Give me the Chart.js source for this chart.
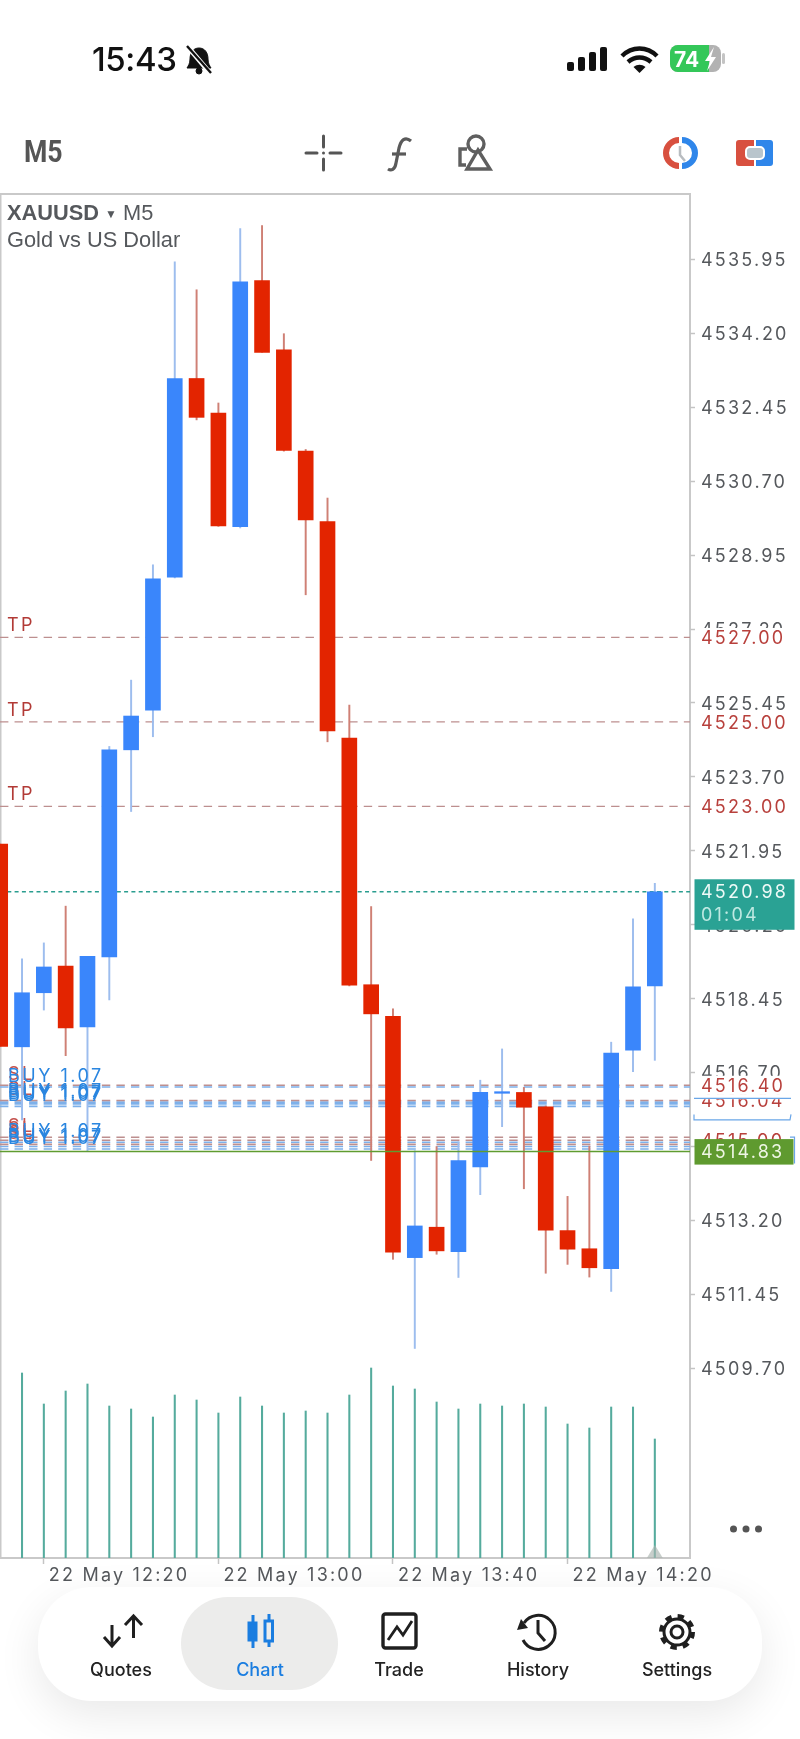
<!DOCTYPE html>
<html><head><meta charset="utf-8">
<style>
html,body{margin:0;padding:0;background:#fff;width:800px;height:1739px;overflow:hidden;font-family:Inter,"Liberation Sans",sans-serif}
#c{position:absolute;left:0;top:0;width:800px;height:1739px}
.t{position:absolute;white-space:nowrap}
svg.o{position:absolute;left:0;top:0;pointer-events:none}
#nav{position:absolute;left:38px;top:1587px;width:724px;height:114px;background:#fff;border-radius:54px;box-shadow:0 14px 44px rgba(0,0,0,.09)}
#hl{position:absolute;left:181px;top:1597px;width:157px;height:93px;background:#ececeb;border-radius:48px}
.n{position:absolute;top:1659px;font-size:18px;font-weight:500;color:#222;transform:translateX(-50%);white-space:nowrap}
</style>
<script src="https://cdn.jsdelivr.net/npm/chart.js@4"></script>
</head><body>
<canvas id="c" width="800" height="1739"></canvas>
<div id="nav"></div><div id="hl"></div>
<div class="t" style="left:92px;top:39px;font-size:33px;font-weight:500;color:#111;letter-spacing:-.4px">15:43</div>
<div class="t" style="left:24px;top:133px;font-family:Roboto;font-size:31px;font-weight:700;color:#555;transform:scaleX(.86);transform-origin:left">M5</div>
<div class="t" style="left:7px;top:200px;font-family:'Liberation Sans';font-size:21.8px;color:#55585c"><b style="font-weight:600">XAUUSD</b> <span style="font-size:12px;vertical-align:2px">▼</span> M5</div>
<div class="t" style="left:7px;top:227px;font-family:'Liberation Sans';font-size:21.8px;color:#55585c">Gold vs US Dollar</div>
<div class="n" style="left:121px">Quotes</div>
<div class="n" style="left:260px;color:#1a7de0">Chart</div>
<div class="n" style="left:399px">Trade</div>
<div class="n" style="left:538px">History</div>
<div class="n" style="left:677px">Settings</div>
<svg class="o" width="800" height="1739" viewBox="0 0 800 1739" fill="none">
 <!-- bell -->
 <g stroke="#111" fill="#111"><path d="M199 48c-6 0-9 5-9 11 0 5-2 7-3 9h24c-1-2-3-4-3-9 0-6-3-11-9-11z"/><circle cx="199" cy="71" r="3"/><path d="M188 47l22 26" stroke="#fff" stroke-width="5"/><path d="M187 46l24 27" stroke-width="2.4"/></g>
 <!-- signal -->
 <g fill="#111"><rect x="567" y="62" width="7" height="9" rx="2"/><rect x="578" y="57" width="7" height="14" rx="2"/><rect x="589" y="52" width="7" height="19" rx="2"/><rect x="600" y="47" width="7" height="24" rx="2"/></g>
 <!-- wifi -->
 <g stroke="#111" stroke-width="4.4" fill="none"><path d="M622 56c10-10 25-10 35 0"/><path d="M628 62c7-6 16-6 23 0"/></g><path d="M633.500 67c4-3 8-3 12 0l-6 6z" fill="#111"/>
 <!-- battery -->
 <rect x="670" y="45" width="51" height="27" rx="8" fill="#b2b2b2"/><path d="M678 45h31v27h-31a8 8 0 0 1-8-8v-11a8 8 0 0 1 8-8z" fill="#34c759"/>
 <rect x="722" y="53" width="3" height="11" rx="1.500" fill="#c4c4c4"/>
 <text x="674" y="67" font-family="Inter" font-size="21" font-weight="700" fill="#fff">74</text>
 <path d="M714 47l-9 14h5l-3 10 9-14h-5z" fill="#fff"/>
 <!-- toolbar -->
 <g stroke="#555" stroke-width="3" stroke-linecap="round"><path d="M306 153h11M330 153h11M323.500 136v11M323.500 159v11"/></g><circle cx="323.500" cy="153" r="1.500" fill="#555"/>
 <g stroke="#5a5a5a" stroke-width="3.200" fill="none"><path d="M411 141c-6-5-10-1-12 7l-3 15c-1 7-5 8-8 6"/><path d="M392 154h14"/></g>
 <g stroke="#5f5f5f" stroke-width="3.400" fill="none"><circle cx="476" cy="144" r="8"/><path d="M467 149h-7v16h6"/><path d="M478 150l12 19h-23z"/></g>
 <g fill="none" stroke-width="6"><path d="M679 140a13 13 0 0 0 0 26" stroke="#d8503f"/><path d="M682 140a13 13 0 0 1 0 26" stroke="#2f86ea"/></g><path d="M680 146v9l5 6" stroke="#b8bcc0" stroke-width="2.500" fill="none"/>
 <path d="M739 140h15v26h-15a3 3 0 0 1-3-3v-20a3 3 0 0 1 3-3z" fill="#d8503f"/><path d="M756 140h14a3 3 0 0 1 3 3v20a3 3 0 0 1-3 3h-14z" fill="#2f86ea"/><rect x="746" y="147" width="18" height="12" rx="4" fill="#b9c5cc" stroke="#fff" stroke-width="2"/>
 <!-- dots -->
 <g fill="#555"><circle cx="733.500" cy="1529" r="3.500"/><circle cx="746" cy="1529" r="3.500"/><circle cx="758.500" cy="1529" r="3.500"/></g>
 <!-- nav icons -->
 <g stroke="#1f1f1f" stroke-width="3" fill="none"><path d="M112 1625v20M104 1637l8 9 8-9"/><path d="M133.500 1638v-21M125 1625l8.500-9 8.500 9"/></g>
 <g stroke="#1a7de0" stroke-width="3" fill="#1a7de0"><path d="M253 1615v33"/><rect x="249" y="1623" width="7" height="17"/><path d="M269 1614v7M269 1641v6"/><rect x="265" y="1621" width="7.500" height="20" fill="none"/></g>
 <g stroke="#1f1f1f" fill="none"><rect x="383" y="1614" width="33" height="34" rx="2.500" stroke-width="3.400"/><path d="M388 1640l9-13 6 8 9-14" stroke-width="2.800"/></g>
 <g stroke="#1f1f1f" stroke-width="3" fill="none"><path d="M524 1623a17 17 0 1 1-1 17"/><path d="M538 1620v13l7 8"/></g><path d="M517 1630l11-2-7-9z" fill="#1f1f1f"/>
 <g stroke="#1f1f1f" fill="none"><circle cx="677" cy="1632" r="6" stroke-width="3"/><circle cx="677" cy="1632" r="13" stroke-width="3"/><circle cx="677" cy="1632" r="15.500" stroke-width="5" stroke-dasharray="6.200 6"/></g>
</svg>
<script>
// Data
const times = ["12:10","12:15","12:20","12:25","12:30","12:35","12:40","12:45","12:50","12:55","13:00","13:05","13:10","13:15","13:20","13:25","13:30","13:35","13:40","13:45","13:50","13:55","14:00","14:05","14:10","14:15","14:20","14:25","14:30","14:35","14:40"];
const opens = [4522.11,4517.31,4518.59,4519.22,4517.78,4519.44,4524.34,4525.28,4528.43,4533.13,4532.31,4529.62,4535.45,4533.81,4531.41,4529.74,4524.62,4518.78,4518.03,4512.32,4513.04,4512.46,4514.47,4516.21,4516.23,4515.89,4512.96,4512.53,4512.06,4517.23,4518.75];
const closes = [4517.32,4518.59,4519.20,4517.76,4519.45,4524.34,4525.14,4528.39,4533.13,4532.21,4529.64,4535.42,4533.75,4531.43,4529.78,4524.79,4518.77,4518.09,4512.45,4513.07,4512.48,4514.62,4516.23,4516.21,4515.88,4512.97,4512.52,4512.08,4517.16,4518.73,4520.98];
const highs = [4522.11,4519.39,4519.77,4520.64,4519.45,4524.42,4525.99,4528.72,4535.89,4535.23,4532.55,4536.68,4536.75,4534.19,4531.45,4530.30,4525.40,4520.63,4518.21,4514.85,4514.95,4515.06,4516.52,4517.26,4516.35,4515.91,4513.77,4514.96,4517.42,4520.34,4521.18];
const lows = [4517.32,4515.58,4518.18,4517.10,4514.85,4518.42,4522.88,4524.65,4528.41,4532.15,4529.63,4529.59,4533.75,4531.41,4528.01,4524.53,4518.75,4514.62,4512.28,4510.17,4512.40,4511.85,4513.81,4515.42,4513.95,4511.95,4512.16,4511.86,4511.52,4516.72,4516.99];
const volumes = [null,185,154,167,174,152,149,141,163,158,145,161,152,145,147,145,163,190,172,169,156,149,154,152,154,151,134,130,151,151,119];
const priceTicks = [4535.95,4534.20,4532.45,4530.70,4528.95,4527.20,4525.45,4523.70,4521.95,4520.20,4518.45,4516.70,4514.95,4513.20,4511.45,4509.70];
const dateTickIndex = [2,10,18,26];
const dateTickLabels = ["22 May 12:20","22 May 13:00","22 May 13:40","22 May 14:20"];
const tpLevels = [4527.00,4525.00,4523.00];
const slLevels = [4516.40,4516.04,4515.17,4515.10,4515.00];
const buyLevels = [4516.36,4516.00,4515.96,4515.90,4515.05,4514.95,4514.89];
const buyLabel = "BUY 1.07", slLabel = "SL", tpLabel = "TP";
const sideValues = [4527.00,4525.00,4523.00,4516.04,4516.40,4515.10];
const sideTexts = ["4527.00","4525.00","4523.00","4516.04","4516.40","4515.00"];
const askPrice = 4520.98, askCountdown = "01:04", bidPrice = 4514.83;

const BLUE="#3a86fb",RED="#e32400",BLUEW="#9dbdee",REDW="#cf8075",TICK="#55585c",FRAME="#c9c9c9",LVRED="#bd8f8f",LVBLUE="#7db0ea";
const FONT='Inter, "Liberation Sans", sans-serif';
const xMin=-0.009,xMax=31.612;
const idx=times.map((_,i)=>i);
const bull=idx.map(i=>closes[i]>=opens[i]);
const hline=(v)=>[{x:xMin,y:v},{x:xMax,y:v}];
const lvl=(v,col,dash,order,w)=>({type:"line",data:hline(v),borderColor:col,borderWidth:w||1.3,borderDash:dash,pointRadius:0,order:order,yAxisID:"y",fill:false,tension:0});

const datasets=[
 {type:"bar",label:"body",data:idx.map(i=>({x:i,y:[opens[i],closes[i]]})),backgroundColor:bull.map(b=>b?BLUE:RED),barThickness:15,grouped:false,minBarLength:1.6,order:2,yAxisID:"y"},
 {type:"bar",label:"wick",data:idx.map(i=>({x:i,y:[lows[i],highs[i]]})),backgroundColor:bull.map(b=>b?BLUEW:REDW),barThickness:1.3,grouped:false,order:3,yAxisID:"y"},
 {type:"bar",label:"volume",data:idx.map(i=>({x:i,y:volumes[i]})),backgroundColor:"#55ab9d",barThickness:1.4,grouped:false,order:4,yAxisID:"yVol"},
 lvl(bidPrice,"#5f9c30",[],1,1.5),
 lvl(askPrice,"#2a9d8f",[4,3.3],5,1.5),
 ...tpLevels.map(v=>lvl(v,LVRED,[8.4,6.150],6)),
 ...slLevels.map(v=>lvl(v,LVRED,[8.4,6.150],6,1.6)),
 ...buyLevels.map(v=>lvl(v,LVBLUE,[8.4,6.150],6,1.6)),
];

const chrome={
 id:"chrome",
 beforeDraw(c){c.ctx.letterSpacing="2.2px";const a=c.chartArea,g=c.ctx;g.save();g.strokeStyle=FRAME;g.lineWidth=2;g.strokeRect(a.left+0.5,a.top,a.right-a.left-.5,a.bottom-a.top);g.restore();},
 afterDatasetsDraw(c){
  const g=c.ctx,y=c.scales.y,x=c.scales.x,a=c.chartArea;
  g.save();g.font='18px '+FONT;g.textBaseline="alphabetic";g.textAlign="left";g.letterSpacing="2.5px";
  g.fillStyle="#b23a36";tpLevels.forEach(v=>g.fillText(tpLabel,7,y.getPixelForValue(v)-6));
  g.fillStyle="#c4524e";slLevels.forEach(v=>g.fillText(slLabel,8,y.getPixelForValue(v)-5));
  g.fillStyle="#2a86e0";buyLevels.forEach(v=>g.fillText(buyLabel,8,y.getPixelForValue(v)-5));
  // pending marker at the last bar
  const lx=x.getPixelForValue(idx[idx.length-1]);
  g.fillStyle="rgba(170,180,175,.65)";g.beginPath();g.moveTo(lx,a.bottom-13);g.lineTo(lx+8,a.bottom);g.lineTo(lx-8,a.bottom);g.closePath();g.fill();
  g.restore();
 },
 afterDraw(c){
  const g=c.ctx,y=c.scales.y;
  g.save();g.font='18px '+FONT;g.textBaseline="middle";g.textAlign="left";g.letterSpacing="2.2px";
  sideValues.forEach((v,i)=>{const p=y.getPixelForValue(v);g.fillStyle="#fff";g.fillRect(696,p-9.5,98,19);g.fillStyle="#b8403c";g.fillText(sideTexts[i],701,p+1.5);
   if(sideTexts[i]==="4516.40"){g.fillStyle="#fff";g.fillRect(696,p+9,98,5);}});
  const by1=y.getPixelForValue(4516.09),by2=y.getPixelForValue(4515.71),by3=y.getPixelForValue(4515.58);
  g.strokeStyle="#6aa6e8";g.lineWidth=1.2;
  g.beginPath();g.moveTo(694,by1);g.lineTo(791,by1);g.moveTo(694,by2);g.lineTo(694,by3);g.lineTo(790,by3);g.lineTo(791,by2);g.stroke();
  const ap=y.getPixelForValue(askPrice),bp=y.getPixelForValue(bidPrice);
  g.fillStyle="#2aa294";g.fillRect(694.5,ap-12.5,100,50.5);
  g.fillStyle="#eefaf7";g.fillText(askPrice.toFixed(2),701,ap+1);
  g.fillStyle="#bfe9e2";g.fillText(askCountdown,701,ap+24);
  g.strokeStyle="#6aa6e8";g.beginPath();g.moveTo(790,bp-14.500);g.lineTo(794.5,bp-14.500);g.lineTo(794.5,bp+12);g.stroke();
  g.fillStyle="#5f9a2f";g.fillRect(694.5,bp-12.5,99,25.5);
  g.fillStyle="#eef6e4";g.fillText(bidPrice.toFixed(2),701,bp+1);
  g.restore();
 }
};

new Chart(document.getElementById("c"),{
 data:{datasets},
 plugins:[chrome],
 options:{
  responsive:false,animation:false,devicePixelRatio:1,
  layout:{padding:{top:194,left:0,right:0,bottom:0}},
  plugins:{legend:{display:false},tooltip:{enabled:false}},
  scales:{
   x:{type:"linear",min:xMin,max:xMax,position:"bottom",offset:false,
      border:{display:false},grid:{offset:false,drawOnChartArea:false,drawTicks:true,tickLength:6,tickColor:"#c4c4c4",tickWidth:1.5},
      afterBuildTicks(s){s.ticks=dateTickIndex.map(v=>({value:v}));},
      afterFit(s){s.height=181;},
      ticks:{autoSkip:false,maxRotation:0,minRotation:0,align:"start",labelOffset:5,padding:1,color:TICK,font:{family:FONT,size:18},
        callback(v){const i=dateTickIndex.indexOf(v);return i>=0?dateTickLabels[i]:"";}}},
   y:{type:"linear",position:"right",min:4505.21,max:4537.497,
      border:{display:false},grid:{drawOnChartArea:false,drawTicks:true,tickLength:5,tickColor:"#c4c4c4",tickWidth:1.5},
      afterBuildTicks(s){s.ticks=priceTicks.map(v=>({value:v}));},
      afterFit(s){s.width=110;},
      ticks:{autoSkip:false,padding:6,labelOffset:1.5,color:TICK,font:{family:FONT,size:18},callback(v){return v.toFixed(2);}}},
   yVol:{type:"linear",display:false,min:0,max:1364}
  }
 }
});
</script>
</body></html>
